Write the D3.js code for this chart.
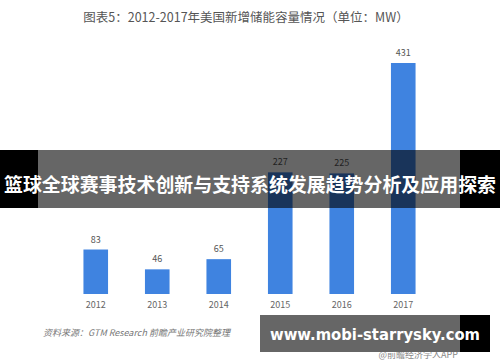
<!DOCTYPE html>
<html>
<head>
<meta charset="utf-8">
<script src="https://cdn.jsdelivr.net/npm/d3@7"></script>
<style>
  body { margin: 0; background: #fff; }
  svg { display: block; }
</style>
</head>
<body>
<svg id="chart" width="500" height="362"></svg>
<script>
const years = ["2012", "2013", "2014", "2015", "2016", "2017"];
const values = [83, 46, 65, 227, 225, 431];

const title = "图表5：2012-2017年美国新增储能容量情况（单位：MW）";
const source = "资料来源：GTM Research 前瞻产业研究院整理";
const banner = "篮球全球赛事技术创新与支持系统发展趋势分析及应用探索";
const site = "www.mobi-starrysky.com";
const credit = "@前瞻经济学人APP";

const svg = d3.select("#chart");
const width = 500, height = 362;
const font = "'Noto Sans CJK SC', 'Noto Sans', sans-serif";

const x = d3.scaleBand().domain(years).range([65, 434]).paddingInner(0.6).paddingOuter(0.3);
const y = d3.scaleLinear().domain([0, 431]).range([294, 63]);

svg.append("text")
  .attr("x", 246).attr("y", 22)
  .attr("text-anchor", "middle")
  .attr("font-family", font).attr("font-size", 12.5)
  .attr("fill", "#555")
  .text(title);

svg.selectAll(".bar")
  .data(values)
  .join("rect")
  .attr("class", "bar")
  .attr("x", (d, i) => x(years[i]))
  .attr("width", x.bandwidth())
  .attr("y", d => y(d))
  .attr("height", d => y(0) - y(d))
  .attr("fill", "#3f83e0");

svg.selectAll(".val")
  .data(values)
  .join("text")
  .attr("class", "val")
  .attr("x", (d, i) => x(years[i]) + x.bandwidth() / 2)
  .attr("y", d => y(d) - 7)
  .attr("text-anchor", "middle")
  .attr("font-family", font).attr("font-size", 9)
  .attr("fill", "#555")
  .text(d => d);

const xAxis = svg.append("g")
  .attr("transform", "translate(0,294)")
  .call(d3.axisBottom(x).tickSize(0).tickPadding(8));
xAxis.select(".domain").remove();
xAxis.selectAll("text")
  .attr("font-family", font).attr("font-size", 9)
  .attr("fill", "#666");

svg.append("text")
  .attr("x", 43).attr("y", 336)
  .attr("font-family", font).attr("font-size", 9)
  .attr("font-style", "italic")
  .attr("fill", "#777")
  .text(source);

// overlay banner across the middle
svg.append("rect").attr("x", 0).attr("y", 150).attr("width", width).attr("height", 58).attr("fill", "#000");
svg.append("rect").attr("x", 38).attr("y", 150).attr("width", 422).attr("height", 58).attr("fill", "#fff");
// bars again inside the band so they show through the tint
svg.append("g").selectAll("rect")
  .data(values)
  .join("rect")
  .attr("x", (d, i) => x(years[i]))
  .attr("width", x.bandwidth())
  .attr("y", d => Math.max(150, y(d)))
  .attr("height", d => Math.max(0, 208 - Math.max(150, y(d))))
  .attr("fill", "#3f83e0");
svg.append("g").selectAll("text")
  .data(values.map((d, i) => [d, i]).filter(p => y(p[0]) - 7 > 150 && y(p[0]) - 7 < 208))
  .join("text")
  .attr("x", p => x(years[p[1]]) + x.bandwidth() / 2)
  .attr("y", p => y(p[0]) - 7)
  .attr("text-anchor", "middle")
  .attr("font-family", font).attr("font-size", 9)
  .attr("fill", "#555")
  .text(p => p[0]);
svg.append("rect").attr("x", 38).attr("y", 150).attr("width", 422).attr("height", 58)
  .attr("fill", "#000").attr("fill-opacity", 0.6);
svg.append("text")
  .attr("x", 250).attr("y", 192)
  .attr("text-anchor", "middle")
  .attr("font-family", font).attr("font-size", 19).attr("font-weight", "bold")
  .attr("textLength", 492).attr("lengthAdjust", "spacingAndGlyphs")
  .attr("fill", "#fff")
  .text(banner);

// bottom site banner
svg.append("text")
  .attr("x", 458).attr("y", 358)
  .attr("text-anchor", "end")
  .attr("font-family", font).attr("font-size", 9)
  .attr("fill", "#888")
  .text(credit);
svg.append("rect").attr("x", 260).attr("y", 315).attr("width", 230).attr("height", 37).attr("fill", "#000");
svg.append("rect").attr("x", 260).attr("y", 315).attr("width", 200).attr("height", 37).attr("fill", "#666");
svg.append("text")
  .attr("x", 375).attr("y", 340)
  .attr("text-anchor", "middle")
  .attr("font-family", "'DejaVu Sans', sans-serif").attr("font-size", 16).attr("font-weight", "bold")
  .attr("textLength", 210).attr("lengthAdjust", "spacingAndGlyphs")
  .attr("fill", "#fff")
  .text(site);
</script>
</body>
</html>
